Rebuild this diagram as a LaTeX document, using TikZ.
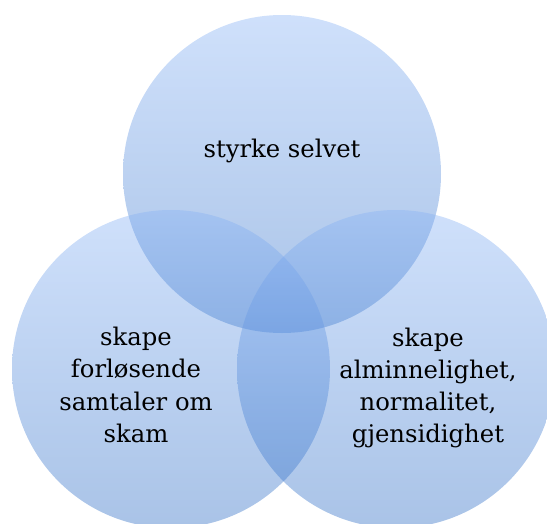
\documentclass[tikz,border=0pt]{standalone}
\usepackage{fontspec}
\setmainfont{DejaVu Serif}
\definecolor{ctop}{RGB}{135,178,245}
\definecolor{cbot}{RGB}{40,105,195}
\newcommand{\lblfont}{\fontsize{24.3pt}{32.3pt}\selectfont}
\begin{document}
\begin{tikzpicture}[x=1pt,y=-1pt,
  venn/.style={circle, minimum size=318pt, inner sep=0pt, top color=ctop, bottom color=cbot, fill opacity=0.4, draw=none},
  lbl/.style={align=center, text=black, font=\lblfont, inner sep=0pt}]
\useasboundingbox (0,0) rectangle (547,523);
\clip (0,0) rectangle (547,523);
\node[venn] (ctopc) at (282,174) {};
\node[venn] (cleft) at (171,369) {};
\node[venn] (cright) at (396,369) {};
\node[lbl, anchor=base] (ttop) at (282,157) {styrke selvet};
\node[lbl] (tleft) at (136,385) {skape\\forløsende\\samtaler om\\skam};
\node[lbl] (tright) at (428,388) {skape\\alminnelighet,\\normalitet,\\gjensidighet};
\end{tikzpicture}
\end{document}
